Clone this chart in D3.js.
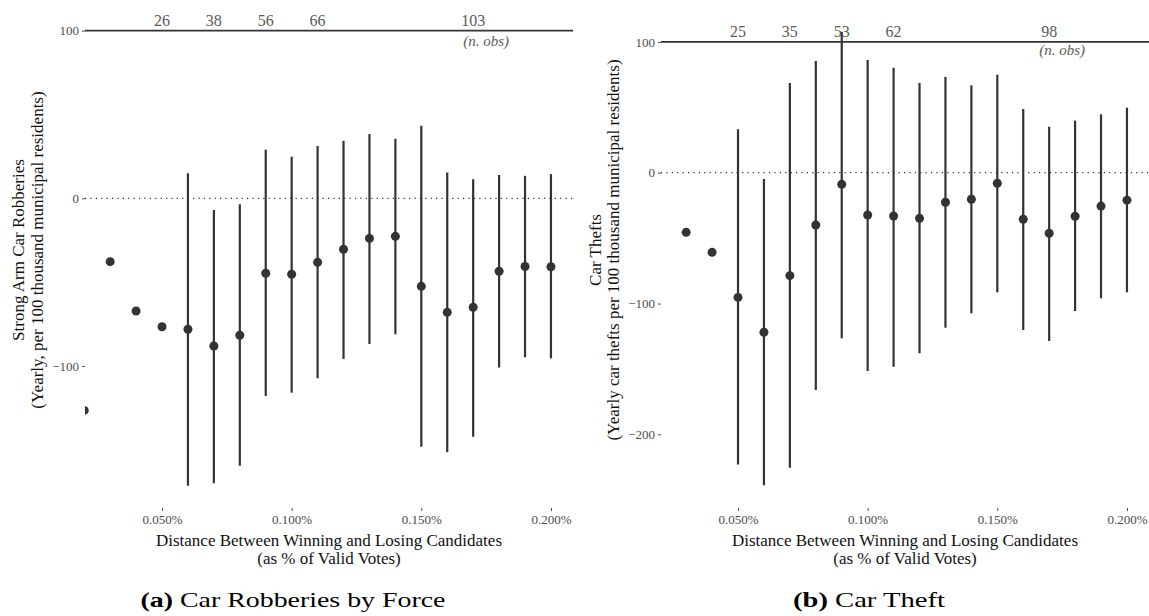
<!DOCTYPE html>
<html>
<head>
<meta charset="utf-8">
<script src="https://cdn.jsdelivr.net/npm/d3@7"></script>
<style>
  body { margin: 0; background: #fff; }
  svg { display: block; font-family: "Liberation Serif", "Times New Roman", serif; }
</style>
</head>
<body>
<svg id="chart" width="1149" height="616" viewBox="0 0 1149 616"></svg>
<script>
// vote margin bins (% of valid votes)
const margins = [0.02, 0.03, 0.04, 0.05, 0.06, 0.07, 0.08, 0.09, 0.10, 0.11,
                 0.12, 0.13, 0.14, 0.15, 0.16, 0.17, 0.18, 0.19, 0.20];

// (a) strong arm car robberies
const robEst  = [-126.5, -37.8, -67.2, -76.6, -78.1, -88.1, -81.7, -44.7, -45.3, -38.2,
                 -30.4, -23.9, -22.7, -52.5, -68.0, -65.0, -43.5, -40.7, -40.8];
const robHigh = [null, null, null, null, 15.0, -7.0, -3.6, 29.0, 24.8, 31.2,
                 34.3, 38.3, 35.5, 43.3, 15.4, 11.4, 13.9, 13.4, 14.4];
const robLow  = [null, null, null, null, -171.4, -170.0, -159.5, -117.9, -115.9, -107.3,
                 -95.8, -86.9, -81.1, -148.1, -151.5, -142.2, -100.9, -94.8, -95.4];
const robObs  = [26, 38, 56, 66, 103];

// (b) car thefts
const theftEst  = [null, -45.6, -60.9, -95.3, -122.0, -78.7, -40.0, -8.9, -32.3, -33.1,
                   -34.9, -22.6, -20.3, -8.1, -35.6, -46.3, -33.3, -25.5, -21.0];
const theftHigh = [null, null, null, 33.2, -4.8, 68.6, 85.4, 107.8, 86.2, 80.3,
                   68.6, 73.2, 66.8, 74.9, 48.7, 35.2, 39.8, 44.6, 49.7];
const theftLow  = [null, null, null, -223.0, -239.0, -225.5, -166.1, -126.6, -151.6, -148.3,
                   -138.1, -118.5, -107.5, -91.4, -120.3, -128.6, -105.7, -96.0, -91.4];
const theftObs  = [25, 35, 53, 62, 98];

// where the n. obs counts are written
const obsMargins = [0.05, 0.07, 0.09, 0.11, 0.17];
const xTicks = [0.05, 0.10, 0.15, 0.20];

const ink = "#333333";
const grey = "#4d4d4d";

function drawPanel(svg, p)
{
    const g = svg.append("g").attr("transform", `translate(${p.left},0)`);
    const pw = 488, top = 8, bottom = 508;

    const x = d3.scaleLinear().domain([0.0203, 0.2085]).range([0, pw]);
    const y = d3.scaleLinear().domain(p.yDomain).range([bottom, top]);

    const clipId = "clip-" + p.key;
    g.append("clipPath").attr("id", clipId)
        .append("rect").attr("x", 0).attr("y", top).attr("width", pw).attr("height", bottom - top);

    // y axis
    const yAxis = g.append("g")
        .call(d3.axisLeft(y).tickValues(p.yTicks).tickSize(3).tickPadding(3));
    yAxis.select(".domain").remove();
    yAxis.selectAll("line").attr("stroke", grey).attr("stroke-width", 1);
    yAxis.selectAll("text").attr("fill", grey).style("font-size", "13px")
        .style("font-family", "Liberation Serif");

    // x axis
    const xAxis = g.append("g").attr("transform", `translate(0,${bottom})`)
        .call(d3.axisBottom(x).tickValues(xTicks).tickSize(3).tickPadding(4)
            .tickFormat(d => d3.format(".3f")(d) + "%"));
    xAxis.select(".domain").remove();
    xAxis.selectAll("line").attr("stroke", grey).attr("stroke-width", 1);
    xAxis.selectAll("text").attr("fill", grey).style("font-size", "13px")
        .style("font-family", "Liberation Serif");

    const plot = g.append("g").attr("clip-path", `url(#${clipId})`);

    // reference lines
    plot.append("line")
        .attr("x1", 0).attr("x2", pw).attr("y1", y(0)).attr("y2", y(0))
        .attr("stroke", ink).attr("stroke-width", 1.2).attr("stroke-dasharray", "1.2,4.2");
    plot.append("line")
        .attr("x1", 0).attr("x2", pw).attr("y1", y(100)).attr("y2", y(100))
        .attr("stroke", ink).attr("stroke-width", 1.6);

    const rows = margins.map((m, i) => ({m: m, est: p.est[i], lo: p.low[i], hi: p.high[i]}))
        .filter(d => d.est !== null);

    // confidence intervals
    plot.selectAll(".ci")
        .data(rows.filter(d => d.lo !== null))
        .enter()
        .append("line")
        .attr("x1", d => x(d.m)).attr("x2", d => x(d.m))
        .attr("y1", d => y(d.lo)).attr("y2", d => y(d.hi))
        .attr("stroke", ink).attr("stroke-width", 2.2);

    plot.selectAll(".pt")
        .data(rows)
        .enter()
        .append("circle")
        .attr("cx", d => x(d.m)).attr("cy", d => y(d.est))
        .attr("r", 4.5).attr("fill", ink);

    // n. obs labels
    g.selectAll(".nobs")
        .data(obsMargins)
        .enter()
        .append("text")
        .attr("x", d => x(d)).attr("y", y(100) - 5)
        .attr("text-anchor", "middle")
        .attr("fill", "#5a5a5a")
        .style("font-size", "16px")
        .text((d, i) => p.obs[i]);
    g.append("text")
        .attr("x", x(0.17) + 13).attr("y", y(100) + p.nobsGap)
        .attr("text-anchor", "middle")
        .attr("fill", "#5a5a5a")
        .style("font-size", "15px").style("font-style", "italic")
        .text("(n. obs)");

    // axis titles
    const xt = g.append("text")
        .attr("x", pw / 2).attr("text-anchor", "middle")
        .attr("fill", "#111").style("font-size", "17px");
    xt.append("tspan").attr("x", pw / 2).attr("y", 546)
        .text("Distance Between Winning and Losing Candidates");
    xt.append("tspan").attr("x", pw / 2).attr("y", 564)
        .text("(as % of Valid Votes)");

    const yt = g.append("text")
        .attr("transform", `translate(${-p.left},${(top + bottom) / 2 - 8}) rotate(-90)`)
        .attr("text-anchor", "middle")
        .attr("fill", "#111").style("font-size", "17px");
    yt.append("tspan").attr("x", 0).attr("y", p.yTitleX[0]).text(p.yTitle[0]);
    yt.append("tspan").attr("x", 0).attr("y", p.yTitleX[1]).text(p.yTitle[1]);

    // sub-caption
    const cap = svg.append("text")
        .attr("x", p.capX).attr("y", 607)
        .attr("text-anchor", "middle")
        .attr("fill", "#000")
        .attr("textLength", p.capWidth)
        .attr("lengthAdjust", "spacingAndGlyphs")
        .style("font-size", "21px");
    cap.append("tspan").style("font-weight", "bold").text(p.capTag);
    cap.append("tspan").text(" " + p.capText);
}

const svg = d3.select("#chart");

drawPanel(svg, {
    key: "a", left: 85,
    yDomain: [-184.7, 113.5], yTicks: [-100, 0, 100],
    est: robEst, low: robLow, high: robHigh, obs: robObs, nobsGap: 15,
    yTitle: ["Strong Arm Car Robberies", "(Yearly, per 100 thousand municipal residents)"],
    yTitleX: [24, 43],
    capX: 293, capWidth: 305, capTag: "(a)", capText: "Car Robberies by Force"
});

drawPanel(svg, {
    key: "b", left: 661,
    yDomain: [-256.3, 125.9], yTicks: [-200, -100, 0, 100],
    est: theftEst, low: theftLow, high: theftHigh, obs: theftObs, nobsGap: 13,
    yTitle: ["Car Thefts", "(Yearly car thefts per 100 thousand municipal residents)"],
    yTitleX: [601, 619],
    capX: 869, capWidth: 152, capTag: "(b)", capText: "Car Theft"
});
</script>
</body>
</html>
